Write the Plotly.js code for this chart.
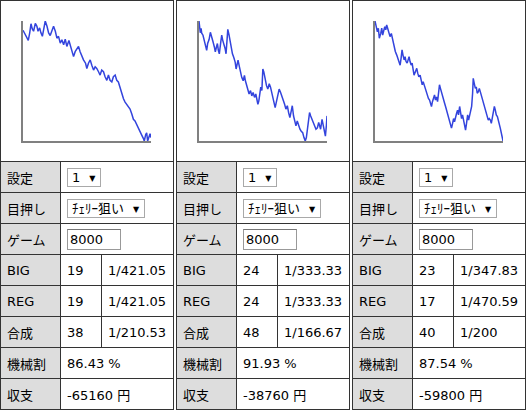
<!DOCTYPE html>
<html>
<head>
<meta charset="utf-8">
<script src="https://cdn.plot.ly/plotly-3.0.1.min.js"></script>
<style>
  body { margin: 0; background: #fff; font-family: "DejaVu Sans", "Noto Sans CJK JP", sans-serif; font-size: 13px; color: #000; }
  table.sim { position: absolute; top: 0; border-collapse: collapse; table-layout: fixed; width: 174px; }
  table.sim td { border: 1px solid #333; padding: 0 0 0 6px; height: 30px; white-space: nowrap; overflow: hidden; }
  table.sim td.lbl { background: #dddddd; }
  table.sim td.chart { padding: 0; height: 160px; }
  .chart-div { width: 172px; height: 160px; }
  .sel { display: inline-block; box-sizing: border-box; border: 1px solid #a9a9a9; height: 19px; line-height: 17px; padding: 0 5px 0 4px; vertical-align: middle; }
  .sel .arr { font-size: 8px; margin-left: 9px; vertical-align: 1px; }
  .inp { display: inline-block; box-sizing: border-box; border: 1px solid #999; border-top-color: #777; height: 21px; line-height: 19px; width: 54px; padding-left: 2px; vertical-align: middle; }
</style>
</head>
<body>
<div id="wrap"></div>
<script>
// table values per column
const settei = ["1", "1", "1"];
const meoshi = ["ﾁｪﾘｰ狙い", "ﾁｪﾘｰ狙い", "ﾁｪﾘｰ狙い"];
const gameCount = ["8000", "8000", "8000"];
const bigCount = ["19", "24", "23"];
const bigProb = ["1/421.05", "1/333.33", "1/347.83"];
const regCount = ["19", "24", "17"];
const regProb = ["1/421.05", "1/333.33", "1/470.59"];
const totalCount = ["38", "48", "40"];
const totalProb = ["1/210.53", "1/166.67", "1/200"];
const payout = ["86.43 %", "91.93 %", "87.54 %"];
const balance = ["-65160 円", "-38760 円", "-59800 円"];

// slump graph data (games, coins)
const games1 = [0,80,210,330,420,500,580,660,770,870,940,1040,1120,1210,1290,1390,1500,1600,1700,1810,1910,2020,2120,2220,2330,2430,2540,2640,2740,2870,2950,3050,3160,3260,3370,3470,3570,3680,3780,3910,3990,4090,4200,4300,4410,4510,4610,4720,4820,4920,5030,5130,5240,5340,5440,5550,5650,5760,5860,5960,6070,6170,6280,6380,6480,6590,6690,6800,6900,7000,7110,7210,7310,7420,7520,7580,7670,7730,7790,7880,7940,8000];
const coins1 = [0,-80,-185,-310,-80,195,40,-30,205,120,-30,70,-80,-185,20,280,120,-80,-160,-30,120,-30,-240,-185,-390,-290,-440,-270,-490,-310,-440,-590,-800,-650,-540,-490,-650,-800,-900,-1000,-1160,-1000,-900,-1060,-1210,-1110,-1160,-1260,-1360,-1210,-1260,-1410,-1520,-1360,-1520,-1570,-1410,-1360,-1520,-1570,-1770,-1930,-2080,-2180,-2260,-2320,-2390,-2540,-2700,-2750,-2870,-3000,-3080,-3180,-3280,-3360,-3160,-3110,-3360,-3210,-3140,-3258];

const games2 = [0,40,80,130,170,250,330,420,480,540,630,710,790,880,960,1020,1090,1150,1210,1270,1360,1420,1480,1550,1630,1690,1750,1800,1880,1940,2010,2090,2170,2260,2320,2380,2440,2510,2590,2670,2760,2840,2900,2970,3050,3130,3220,3300,3380,3470,3550,3610,3680,3740,3800,3860,3930,3990,4050,4140,4220,4300,4390,4470,4550,4640,4700,4760,4850,4930,5010,5100,5180,5260,5350,5430,5520,5600,5680,5770,5830,5910,5970,6060,6140,6230,6310,6390,6480,6560,6640,6710,6770,6850,6910,6980,7060,7140,7230,7310,7400,7480,7540,7600,7690,7750,7830,7900,7960,8000];
const coins2 = [0,-120,-240,-150,-250,-290,-380,-490,-600,-460,-380,-230,-360,-430,-530,-630,-530,-460,-600,-670,-430,-290,-390,-460,-560,-670,-320,-170,-290,-430,-560,-670,-740,-840,-980,-870,-800,-910,-1040,-1150,-1220,-1110,-1220,-1320,-1390,-1490,-1420,-1530,-1460,-1560,-1490,-1590,-1700,-1630,-1460,-1350,-1420,-980,-1040,-1220,-1320,-1390,-1280,-1350,-1460,-1560,-1660,-1770,-1630,-1490,-1390,-1460,-1530,-1630,-1700,-1800,-1730,-1870,-1970,-1830,-1730,-1940,-2010,-2140,-2040,-2140,-2210,-2250,-2280,-2380,-2450,-2380,-2210,-2040,-1870,-1940,-2010,-2040,-2140,-2210,-2180,-2070,-2140,-2210,-2010,-2110,-2280,-2350,-2140,-1938];

const games3 = [0,60,150,210,270,360,420,480,540,610,670,730,790,860,940,1020,1090,1150,1210,1270,1360,1440,1500,1570,1630,1690,1750,1820,1880,1940,2010,2070,2130,2190,2260,2320,2380,2440,2530,2610,2670,2740,2820,2880,2950,3010,3070,3150,3220,3280,3340,3410,3470,3530,3590,3660,3720,3780,3840,3910,3970,4030,4090,4160,4220,4280,4350,4410,4470,4530,4600,4660,4720,4780,4850,4910,4970,5030,5100,5160,5220,5290,5350,5410,5470,5540,5600,5660,5720,5790,5850,5910,5970,6040,6100,6140,6200,6270,6330,6390,6460,6520,6580,6640,6710,6770,6830,6890,6960,7020,7080,7140,7210,7270,7330,7400,7460,7520,7580,7650,7710,7770,7830,7900,7960,8000];
const coins3 = [0,-140,-270,-180,-430,-310,-180,-350,-270,-140,-220,-100,-180,-270,-390,-310,-430,-560,-680,-760,-850,-930,-1010,-1100,-930,-720,-850,-970,-890,-1010,-1050,-970,-890,-1010,-1100,-1050,-1220,-1350,-1260,-1180,-1300,-1390,-1350,-1510,-1590,-1510,-1590,-1680,-1800,-1890,-1930,-1970,-2050,-2130,-2010,-1930,-1840,-1970,-1890,-2010,-1760,-1590,-1680,-1800,-1890,-1970,-2050,-2130,-2220,-2340,-2430,-2510,-2590,-2670,-2550,-2430,-2510,-2380,-2300,-2220,-2340,-2130,-2300,-2430,-2340,-2470,-2590,-2720,-2550,-2340,-2470,-2380,-2260,-2130,-1800,-1430,-1550,-1680,-1640,-1800,-1760,-1680,-1760,-1840,-1930,-2010,-2090,-2180,-2300,-2380,-2470,-2430,-2470,-2550,-2430,-2260,-2130,-2220,-2340,-2380,-2510,-2550,-2670,-2800,-2920,-2990];

const graphGames = [games1, games2, games3];
const graphCoins = [coins1, coins2, coins3];
const tableLeft = [0, 176, 352];

const wrap = document.getElementById("wrap");

function buildTable(i) {
  var html = '<table class="sim" style="left:' + tableLeft[i] + 'px">' +
    '<colgroup><col style="width:60px"><col style="width:41px"><col style="width:72px"></colgroup>' +
    '<tr><td class="chart" colspan="3"><div class="chart-div" id="chart' + i + '"></div></td></tr>' +
    '<tr><td class="lbl">設定</td><td colspan="2"><span class="sel">' + settei[i] + '<span class="arr">▼</span></span></td></tr>' +
    '<tr><td class="lbl">目押し</td><td colspan="2"><span class="sel">' + meoshi[i] + '<span class="arr">▼</span></span></td></tr>' +
    '<tr><td class="lbl">ゲーム</td><td colspan="2"><span class="inp">' + gameCount[i] + '</span></td></tr>' +
    '<tr><td class="lbl">BIG</td><td>' + bigCount[i] + '</td><td>' + bigProb[i] + '</td></tr>' +
    '<tr><td class="lbl">REG</td><td>' + regCount[i] + '</td><td>' + regProb[i] + '</td></tr>' +
    '<tr><td class="lbl">合成</td><td>' + totalCount[i] + '</td><td>' + totalProb[i] + '</td></tr>' +
    '<tr><td class="lbl">機械割</td><td colspan="2">' + payout[i] + '</td></tr>' +
    '<tr><td class="lbl">収支</td><td colspan="2">' + balance[i] + '</td></tr>' +
    '</table>';
  wrap.insertAdjacentHTML("beforeend", html);
}

function drawGraph(i) {
  var ys = graphCoins[i];
  var trace = {
    x: graphGames[i],
    y: ys,
    mode: "lines",
    type: "scatter",
    line: { color: "rgb(51,68,221)", width: 1.5 },
    hoverinfo: "skip",
  };
  var axisBase = {
    showgrid: false,
    zeroline: false,
    showticklabels: false,
    ticks: "",
    showline: true,
    linecolor: "#808080",
    linewidth: 2,
  };
  var layout = {
    width: 172,
    height: 160,
    margin: { l: 22, r: 22, t: 20, b: 20, pad: 0 },
    showlegend: false,
    plot_bgcolor: "#ffffff",
    paper_bgcolor: "#ffffff",
    xaxis: Object.assign({ range: [0, 8000] }, axisBase),
    yaxis: Object.assign({ range: [Math.min.apply(null, ys), Math.max.apply(null, ys)] }, axisBase),
  };
  Plotly.newPlot("chart" + i, [trace], layout, { staticPlot: true, displayModeBar: false });
}

for (var i = 0; i < 3; i++) {
  buildTable(i);
  drawGraph(i);
}
</script>
</body>
</html>
